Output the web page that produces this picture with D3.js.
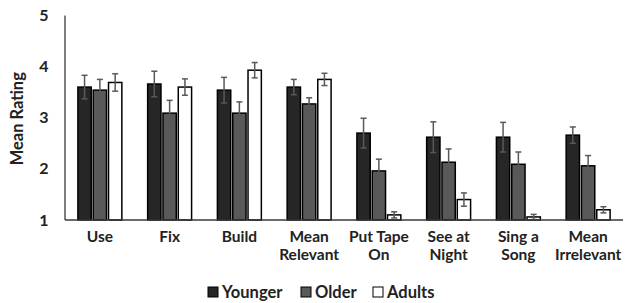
<!DOCTYPE html>
<html>
<head>
<meta charset="utf-8">
<script src="https://cdn.jsdelivr.net/npm/d3@7"></script>
<style>
  body { margin: 0; background: #fff; }
  svg text { font-family: Lato, "Open Sans", sans-serif; font-weight: bold; fill: #222; }
</style>
</head>
<body>
<div id="chart"></div>
<script>
const categories = [
  ['Use'], ['Fix'], ['Build'], ['Mean', 'Relevant'],
  ['Put Tape', 'On'], ['See at', 'Night'], ['Sing a', 'Song'], ['Mean', 'Irrelevant']
];
const seriesNames = ['Younger', 'Older', 'Adults'];
const younger = [3.60, 3.66, 3.54, 3.60, 2.70, 2.62, 2.62, 2.66];
const older = [3.54, 3.09, 3.09, 3.27, 1.96, 2.13, 2.09, 2.06];
const adults = [3.69, 3.60, 3.93, 3.75, 1.10, 1.40, 1.06, 1.20];
const youngerErr = [0.23, 0.25, 0.25, 0.15, 0.29, 0.30, 0.29, 0.16];
const olderErr = [0.21, 0.25, 0.22, 0.12, 0.23, 0.26, 0.24, 0.20];
const adultsErr = [0.17, 0.16, 0.15, 0.12, 0.06, 0.13, 0.05, 0.06];
const yTicks = [1, 2, 3, 4, 5];

const fills = ['#262626', '#595959', '#ffffff'];
const values = [younger, older, adults];
const errs = [youngerErr, olderErr, adultsErr];

const W = 629, H = 303;
const svg = d3.select('#chart').append('svg').attr('width', W).attr('height', H);

const x0 = d3.scaleBand()
  .domain(d3.range(categories.length))
  .range([65, 623])
  .paddingInner(0.37)
  .paddingOuter(0.185);

const x1 = d3.scaleBand()
  .domain(d3.range(seriesNames.length))
  .range([0, x0.bandwidth()])
  .paddingInner(0.13);

const y = d3.scaleLinear().domain([1, 5]).range([220, 15.5]);

// Y axis line
svg.append('line')
  .attr('x1', 65).attr('x2', 65)
  .attr('y1', y(5)).attr('y2', y(1))
  .attr('stroke', '#3a3a3a').attr('stroke-width', 1.3);

// Y ticks
svg.append('g')
  .selectAll('text')
  .data(yTicks)
  .join('text')
  .attr('x', 44)
  .attr('y', d => y(d))
  .attr('dy', '0.35em')
  .attr('text-anchor', 'middle')
  .attr('font-size', 16)
  .text(d => d);

svg.append('text')
  .attr('transform', `translate(23,${y(3) + 1}) rotate(-90)`)
  .attr('text-anchor', 'middle')
  .attr('font-size', 16.5)
  .text('Mean Rating');

// Bars
const groups = svg.append('g')
  .selectAll('g')
  .data(categories)
  .join('g')
  .attr('transform', (d, i) => `translate(${x0(i)},0)`);

groups.each(function(cat, i) {
  const g = d3.select(this);
  seriesNames.forEach((s, j) => {
    const v = values[j][i];
    g.append('rect')
      .attr('x', x1(j))
      .attr('y', y(v))
      .attr('width', x1.bandwidth())
      .attr('height', y(1) - y(v))
      .attr('fill', fills[j])
      .attr('stroke', '#000')
      .attr('stroke-width', 1.5);
    const cx = x1(j) + x1.bandwidth() / 2;
    const e = errs[j][i];
    g.append('line')
      .attr('x1', cx).attr('x2', cx)
      .attr('y1', y(v + e)).attr('y2', y(v - e))
      .attr('stroke', '#595959').attr('stroke-width', 1.5);
    [v + e, v - e].forEach(t => {
      g.append('line')
        .attr('x1', cx - 3).attr('x2', cx + 3)
        .attr('y1', y(t)).attr('y2', y(t))
        .attr('stroke', '#595959').attr('stroke-width', 1.5);
    });
  });
});

// X axis line drawn over the bar bottoms
svg.append('line')
  .attr('x1', 65).attr('x2', 623)
  .attr('y1', y(1)).attr('y2', y(1))
  .attr('stroke', '#3a3a3a').attr('stroke-width', 1.3);

// Category labels
groups.append('text')
  .attr('x', x0.bandwidth() / 2)
  .attr('y', 242)
  .attr('text-anchor', 'middle')
  .attr('font-size', 15.5)
  .selectAll('tspan')
  .data(d => d)
  .join('tspan')
  .attr('x', x0.bandwidth() / 2)
  .attr('dy', (d, k) => k === 0 ? 0 : 18)
  .text(d => d);

// Legend
const legendX = [208, 301, 373];
const legend = svg.append('g')
  .selectAll('g')
  .data(seriesNames)
  .join('g')
  .attr('transform', (d, j) => `translate(${legendX[j]},287)`);

legend.append('rect')
  .attr('width', 10).attr('height', 10)
  .attr('fill', (d, j) => fills[j])
  .attr('stroke', '#000').attr('stroke-width', 1);

legend.append('text')
  .attr('x', 14)
  .attr('y', 5)
  .attr('dy', '0.35em')
  .attr('font-size', 16.5)
  .text(d => d);
</script>
</body>
</html>
